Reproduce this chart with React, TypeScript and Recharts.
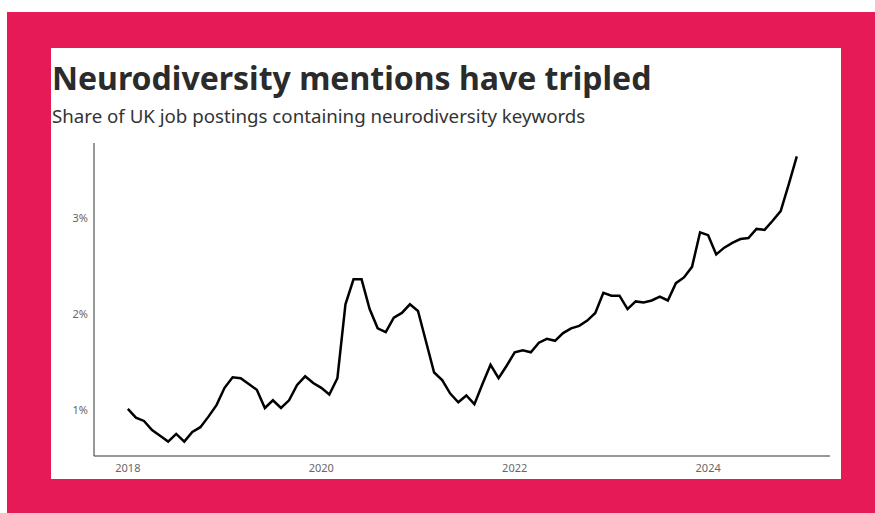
import React from 'react';
import { LineChart, Line, XAxis, YAxis } from 'recharts';

// monthly, Jan 2018 .. Dec 2024 (% of UK job postings)
const shareValues: number[] = [
  1.01, 0.92, 0.885, 0.79, 0.73, 0.67, 0.75, 0.67, 0.77, 0.82, 0.93, 1.05,
  1.23, 1.34, 1.33, 1.27, 1.21, 1.02, 1.1, 1.02, 1.1, 1.26, 1.35, 1.28,
  1.23, 1.16, 1.33, 2.1, 2.36, 2.36, 2.05, 1.85, 1.81, 1.96, 2.01, 2.1,
  2.03, 1.71, 1.39, 1.31, 1.17, 1.08, 1.15, 1.06, 1.27, 1.47, 1.33, 1.46,
  1.6, 1.62, 1.6, 1.7, 1.74, 1.72, 1.8, 1.85, 1.875, 1.93, 2.01, 2.22,
  2.19, 2.19, 2.05, 2.13, 2.12, 2.14, 2.18, 2.14, 2.32, 2.38, 2.49, 2.85,
  2.82, 2.62, 2.69, 2.74, 2.78, 2.79, 2.885, 2.875, 2.97, 3.07, 3.35, 3.64,
];
const startYear = 2018;
const yearTicks = [2018, 2020, 2022, 2024];
const pctTicks = [1, 2, 3];

const data = shareValues.map((v, i) => ({ t: startYear + i / 12, share: v }));

const font = '"Noto Sans", "Open Sans", sans-serif';

export default function App() {
  return (
    <div style={{ position: 'absolute', left: 7, top: 12, width: 868, height: 501, background: '#E51A56' }}>
      <div
        style={{
          position: 'absolute',
          left: 44,
          top: 36,
          width: 790,
          height: 431,
          background: '#fff',
          fontFamily: font,
        }}
      >
        <div
          style={{
            position: 'absolute',
            left: 1,
            top: 8,
            fontSize: 32,
            fontWeight: 700,
            color: '#2b2b2b',
            whiteSpace: 'nowrap',
          }}
        >
          Neurodiversity mentions have tripled
        </div>
        <div
          style={{
            position: 'absolute',
            left: 1,
            top: 55,
            fontSize: 18.7,
            color: '#333',
            whiteSpace: 'nowrap',
          }}
        >
          Share of UK job postings containing neurodiversity keywords
        </div>
        <div style={{ position: 'absolute', left: 0, top: 82 }}>
          <LineChart width={790} height={349} data={data} margin={{ top: 13, right: 11, bottom: 0, left: 3 }}>
            <XAxis
              dataKey="t"
              type="number"
              domain={[2017.65, 2025.26]}
              ticks={yearTicks}
              tickFormatter={(v: number) => String(v)}
              height={23}
              tickLine={false}
              tickSize={0}
              tickMargin={8}
              stroke="#333"
              tick={{ fill: '#666', fontSize: 11, fontFamily: font }}
            />
            <YAxis
              type="number"
              domain={[0.52, 3.78]}
              ticks={pctTicks}
              tickFormatter={(v: number) => `${v}%`}
              width={40}
              tickLine={false}
              tickSize={0}
              tickMargin={6}
              stroke="#333"
              tick={{ fill: '#666', fontSize: 11, fontFamily: font }}
            />
            <Line
              type="linear"
              dataKey="share"
              stroke="#000"
              strokeWidth={2.5}
              dot={false}
              isAnimationActive={false}
            />
          </LineChart>
        </div>
      </div>
    </div>
  );
}
